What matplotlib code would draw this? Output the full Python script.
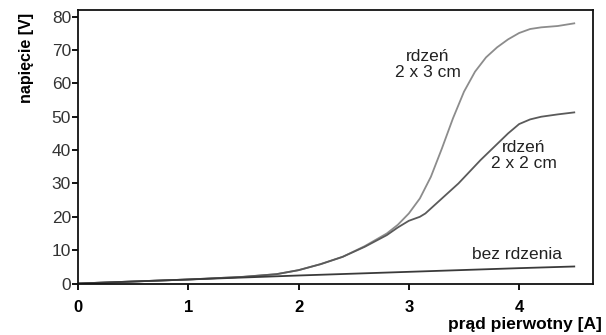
import matplotlib
matplotlib.use("Agg")
import matplotlib.pyplot as plt

plt.rcParams['font.family'] = ['Liberation Sans', 'DejaVu Sans']

# dane
prad_3cm = [0, 0.5, 1.0, 1.5, 1.8, 2.0, 2.2, 2.4, 2.6, 2.8, 2.9, 3.0, 3.1, 3.2, 3.3, 3.4, 3.5, 3.6, 3.7, 3.8, 3.9, 4.0, 4.1, 4.2, 4.35, 4.5]
nap_3cm = [0, 0.6, 1.2, 2.0, 2.8, 4.0, 5.8, 8.0, 11.2, 15.0, 17.6, 21.0, 25.5, 32.0, 40.5, 49.5, 57.5, 63.5, 67.8, 70.8, 73.2, 75.1, 76.3, 76.8, 77.2, 78.0]

prad_2cm = [0, 0.5, 1.0, 1.5, 1.8, 2.0, 2.2, 2.4, 2.6, 2.8, 2.9, 3.0, 3.1, 3.15, 3.25, 3.45, 3.65, 3.9, 4.0, 4.1, 4.2, 4.35, 4.5]
nap_2cm = [0, 0.6, 1.2, 2.0, 2.8, 4.0, 5.8, 8.0, 11.0, 14.5, 16.8, 18.8, 20.0, 21.0, 24.0, 30.0, 37.0, 45.0, 47.8, 49.2, 50.0, 50.7, 51.3]

prad_bez = [0, 1.0, 2.0, 3.0, 4.0, 4.5]
nap_bez = [0, 1.2, 2.4, 3.5, 4.6, 5.1]

etykiety = ["rdzeń\n2 x 3 cm", "rdzeń\n2 x 2 cm", "bez rdzenia"]
poz_etykiet = [(3.17, 65.7), (4.04, 38.3), (3.98, 8.7)]

fig = plt.figure(figsize=(6.06, 3.35), dpi=100)
ax = fig.add_axes([78/606, 1-283.5/335, (593-78)/606, (283.5-10)/335])

ax.plot(prad_3cm, nap_3cm, color='#8c8c8c', lw=1.3)
ax.plot(prad_2cm, nap_2cm, color='#5a5a5a', lw=1.3)
ax.plot(prad_bez, nap_bez, color='#3a3a3a', lw=1.3)

for tekst, (x, y) in zip(etykiety, poz_etykiet):
    ax.text(x, y, tekst, ha='center', va='center', fontsize=12.5, color='#222222', linespacing=1.1)

ax.set_xlim(0, 4.67)
ax.set_ylim(0, 82)
ax.set_xticks([0, 1, 2, 3, 4])
ax.set_yticks(range(0, 81, 10))

for s in ax.spines.values():
    s.set_linewidth(1.3)
    s.set_color('#111111')

ax.tick_params(axis='both', direction='out', length=4, width=1.3)
ax.tick_params(axis='y', labelsize=12.5, labelcolor='#333333', pad=1)
ax.tick_params(axis='x', labelsize=12, pad=8)
for t in ax.get_xticklabels():
    t.set_fontweight('bold')

fig.text(602/606, 1-325/335, "prąd pierwotny [A]", ha='right', va='center', fontsize=12.5, fontweight='bold')
fig.text(27/606, 1-58/335, "napięcie [V]", ha='center', va='center', rotation=90, fontsize=11.5, fontweight='bold')

fig.savefig("out.png", dpi=100)
